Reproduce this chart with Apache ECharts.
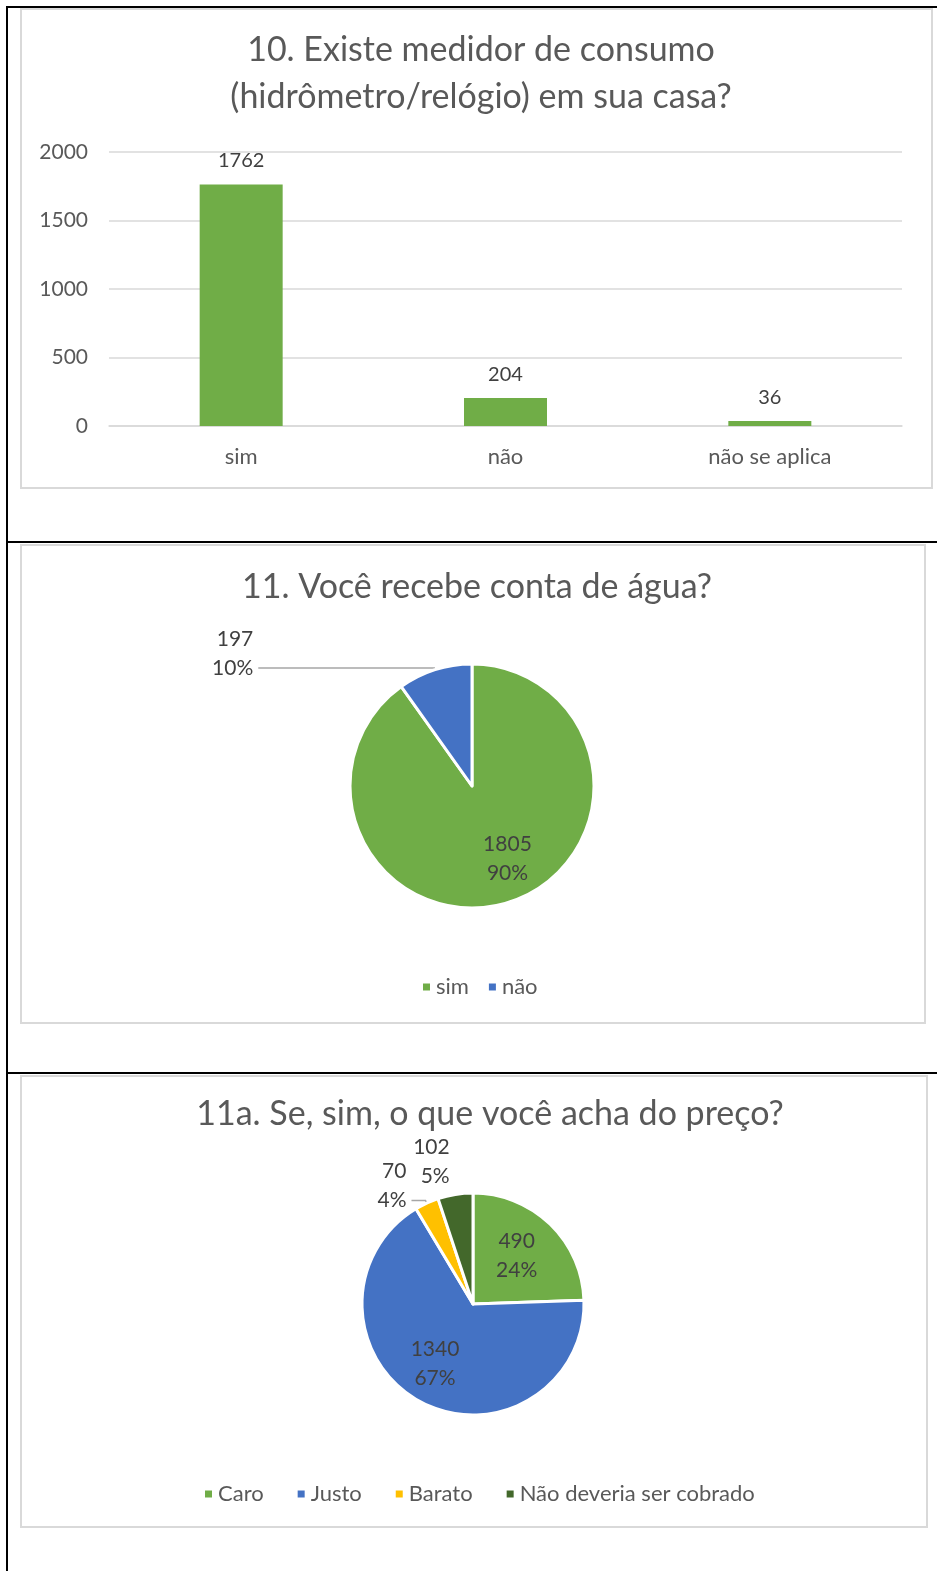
<!DOCTYPE html>
<html>
<head>
<meta charset="utf-8">
<script src="https://cdn.jsdelivr.net/npm/echarts@6/dist/echarts.min.js"></script>
<style>
  html, body { margin: 0; padding: 0; background: #fff; }
  #main { width: 937px; height: 1571px; }
</style>
</head>
<body>
<div id="main"></div>
<script>
// dados do grafico 10 (barras)
var barCategories = ['sim', 'não', 'não se aplica'];
var barValues = [1762, 204, 36];
var yMin = 0, yMax = 2000, yStep = 500;

// dados do grafico 11 (pizza)
var pie1Names = ['sim', 'não'];
var pie1Values = [1805, 197];

// dados do grafico 11a (pizza)
var pie2Names = ['Caro', 'Justo', 'Barato', 'Não deveria ser cobrado'];
var pie2Values = [490, 1340, 70, 102];

var titles = [
    '10. Existe medidor de consumo\n(hidrômetro/relógio) em sua casa?',
    '11. Você recebe conta de água?',
    '11a. Se, sim, o que você acha do preço?'
];

var FONT = 'Lato';
var green = '#70AD47', blue = '#4472C4', yellow = '#FFC000', dark = '#43682B';
var textGray = '#595959', labelGray = '#404040';

var myChart = echarts.init(document.getElementById('main'));

// rotulo padrao "valor / percentual"; linhas vazias no fim sobem o texto
function pieLabel(extra, blankLines) {
    var tail = '';
    for (var k = 0; k < (blankLines || 0); k++) tail += '\n ';
    var base = {
        formatter: '{c}\n{d}%' + tail,
        fontFamily: FONT,
        fontSize: 21,
        lineHeight: 29,
        color: labelGray
    };
    return Object.assign(base, extra);
}

var leader = { color: '#A6A6A6', width: 1.5 };

// fatias do grafico 11
var pie1Colors = [green, blue];
var pie1Data = pie1Names.map(function (n, i) {
    var item = { name: n, value: pie1Values[i], itemStyle: { color: pie1Colors[i] } };
    if (i === 0) {
        item.label = pieLabel({ position: 'inside', offset: [16, 12] });
    } else {
        item.label = pieLabel({ position: 'outside' }, 1);
        item.labelLine = { show: true, length: 2, length2: 176, lineStyle: leader };
    }
    return item;
});

// fatias do grafico 11a
var pie2Colors = [green, blue, yellow, dark];
var pie2Offsets = [[3, -6], [-10, 8]];
var pie2Data = pie2Names.map(function (n, i) {
    var item = { name: n, value: pie2Values[i], itemStyle: { color: pie2Colors[i] } };
    if (i < 2) {
        item.label = pieLabel({ position: 'inside', offset: pie2Offsets[i] });
    } else if (i === 2) {
        item.label = pieLabel({ position: 'outside' }, 1);
        item.labelLine = { show: true, length: 3, length2: 14, lineStyle: leader };
    } else {
        item.label = pieLabel({ position: 'outside' }, 2);
        item.labelLine = { show: false, length: 4, length2: 0 };
    }
    return item;
});

var titleStyle = { fontFamily: FONT, fontSize: 34, fontWeight: 'normal', color: textGray, lineHeight: 47 };
var legendText = { fontFamily: FONT, fontSize: 22, color: textGray };

var option = {
    animation: false,
    backgroundColor: '#fff',
    title: [
        { text: titles[0], left: 476, top: 22, textAlign: 'center', textStyle: titleStyle },
        { text: titles[1], left: 472, top: 559, textAlign: 'center', textStyle: titleStyle },
        { text: titles[2], left: 485, top: 1086, textAlign: 'center', textStyle: titleStyle }
    ],
    legend: [
        {
            data: pie1Names, left: 416, top: 971, itemWidth: 9, itemHeight: 9, itemGap: 18,
            icon: 'rect', textStyle: legendText
        },
        {
            data: pie2Names, left: 198, top: 1478, itemWidth: 9, itemHeight: 9, itemGap: 32,
            icon: 'rect', textStyle: legendText
        }
    ],
    grid: { left: 109, right: 35, top: 152, bottom: 1571 - 426, containLabel: false },
    xAxis: {
        type: 'category',
        data: barCategories,
        axisTick: { show: false },
        axisLine: { lineStyle: { color: '#D9D9D9', width: 1.5 } },
        axisLabel: { fontFamily: FONT, fontSize: 22, color: textGray, margin: 20 }
    },
    yAxis: {
        type: 'value',
        min: yMin, max: yMax, interval: yStep,
        axisLine: { show: false },
        axisTick: { show: false },
        splitLine: { lineStyle: { color: '#D9D9D9', width: 1.5 } },
        axisLabel: {
            fontFamily: FONT, fontSize: 21, color: textGray, margin: 21,
            formatter: function (v) { return String(v); }
        }
    },
    series: [
        {
            name: 'medidor',
            type: 'bar',
            data: barValues,
            barWidth: 83,
            itemStyle: { color: green },
            label: { show: true, position: 'top', distance: 14, fontFamily: FONT, fontSize: 20, color: labelGray }
        },
        {
            name: 'conta',
            type: 'pie',
            center: [472, 786],
            radius: 122,
            startAngle: 90,
            clockwise: true,
            percentPrecision: 0,
            avoidLabelOverlap: false,
            itemStyle: { borderColor: '#fff', borderWidth: 3 },
            emphasis: { disabled: true },
            data: pie1Data
        },
        {
            name: 'preco',
            type: 'pie',
            center: [473, 1304],
            radius: 111,
            startAngle: 90,
            clockwise: true,
            percentPrecision: 0,
            avoidLabelOverlap: false,
            itemStyle: { borderColor: '#fff', borderWidth: 3 },
            emphasis: { disabled: true },
            data: pie2Data
        }
    ],
    graphic: [
        // caixas cinza dos graficos
        { type: 'rect', shape: { x: 21, y: 9, width: 911, height: 479 }, style: { fill: 'none', stroke: '#D9D9D9', lineWidth: 2 }, silent: true },
        { type: 'rect', shape: { x: 21, y: 545, width: 904, height: 478 }, style: { fill: 'none', stroke: '#D9D9D9', lineWidth: 2 }, silent: true },
        { type: 'rect', shape: { x: 21, y: 1076, width: 906, height: 451 }, style: { fill: 'none', stroke: '#D9D9D9', lineWidth: 2 }, silent: true },
        // linhas pretas da tabela
        { type: 'line', shape: { x1: 6, y1: 7, x2: 937, y2: 7 }, style: { stroke: '#000', lineWidth: 2 }, silent: true },
        { type: 'line', shape: { x1: 7, y1: 6, x2: 7, y2: 1571 }, style: { stroke: '#000', lineWidth: 2 }, silent: true },
        { type: 'line', shape: { x1: 7, y1: 542, x2: 937, y2: 542 }, style: { stroke: '#000', lineWidth: 2 }, silent: true },
        { type: 'line', shape: { x1: 7, y1: 1073, x2: 937, y2: 1073 }, style: { stroke: '#000', lineWidth: 2 }, silent: true }
    ]
};

myChart.setOption(option);
</script>
</body>
</html>
